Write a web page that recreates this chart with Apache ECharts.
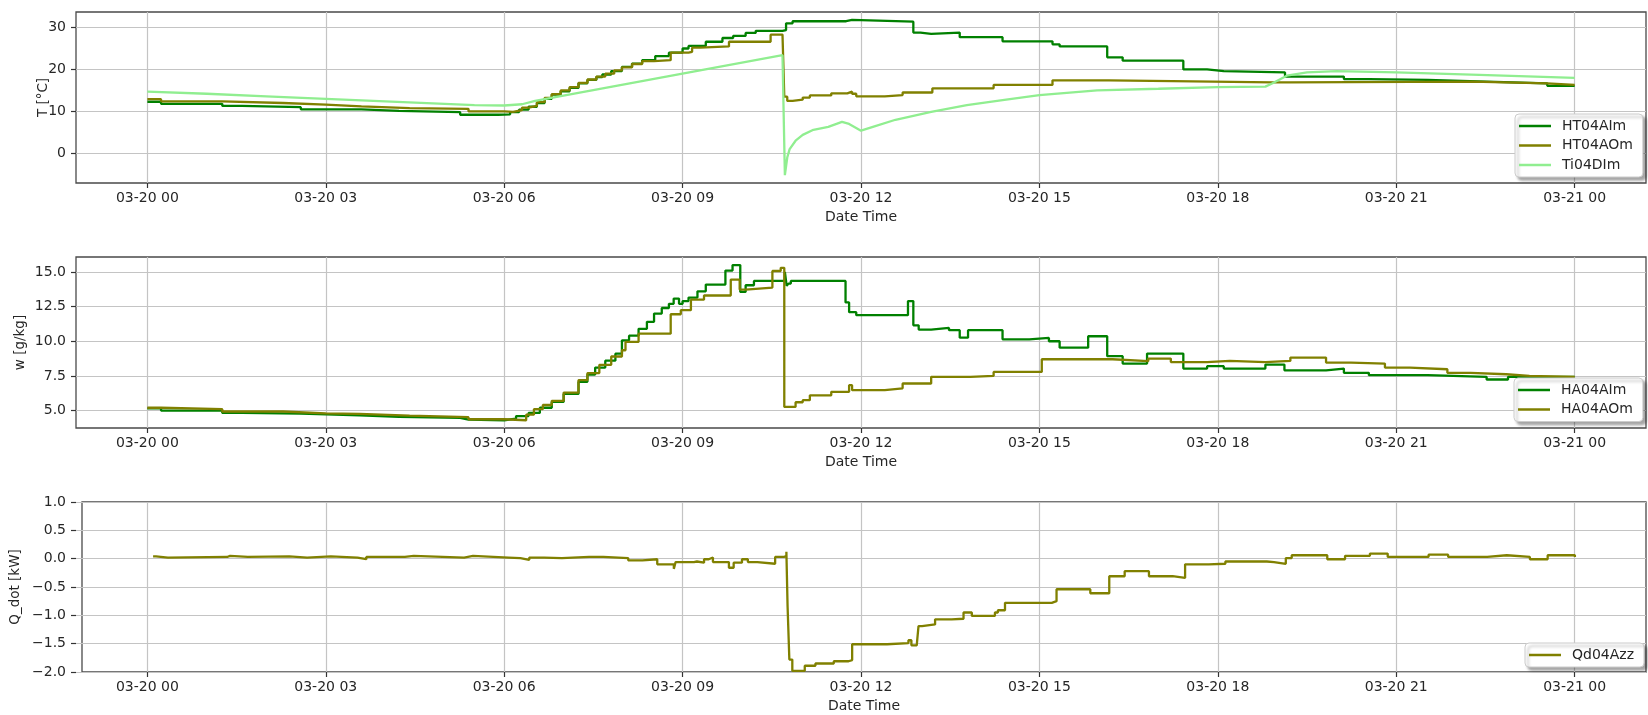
<!DOCTYPE html>
<html><head><meta charset="utf-8">
<script src="https://cdn.jsdelivr.net/npm/echarts@6/dist/echarts.min.js"></script>
<style>html,body{margin:0;padding:0;background:#fff}#c{width:1648px;height:715px}</style>
</head><body><div id="c"></div>
<script>
// ---------------- DATA (hour of 03-20, value) ----------------
const hourTicks = [0, 3, 6, 9, 12, 15, 18, 21, 24];
const hourLabels = ['03-20 00','03-20 03','03-20 06','03-20 09','03-20 12','03-20 15','03-20 18','03-20 21','03-21 00'];
const tTicks = [0, 10, 20, 30];
const wTicks = [5.0, 7.5, 10.0, 12.5, 15.0];
const qTicks = [-2.0, -1.5, -1.0, -0.5, 0.0, 0.5, 1.0];
const yTitles = ['T [°C]', 'w [g/kg]', 'Q_dot [kW]'];
const xTitle = 'Date Time';

const HT04AIm = [[0,12.3],[0.23,11.8],[1.26,11.3],[1.59,11.0],[2.58,10.5],[3.6,10.1],[4.23,9.8],[5.26,9.2],[5.9,9.3],[6.1,9.8],[6.25,10.4],[6.41,11.1],[6.55,12.0],[6.68,13.0],[6.8,14.0],[6.95,14.8],[7.1,15.6],[7.25,16.7],[7.4,17.5],[7.55,18.2],[7.65,18.8],[7.8,19.6],[7.98,20.6],[8.15,21.4],[8.32,22.2],[8.54,23.2],[8.77,24.0],[9.0,25.0],[9.1,25.6],[9.39,26.6],[9.67,27.5],[9.85,28.0],[10.06,28.7],[10.23,29.2],[10.68,29.4],[10.74,31.0],[10.85,31.5],[11.75,31.8],[11.85,31.4],[12.88,28.8],[13.0,28.5],[13.18,28.8],[13.66,27.7],[14.38,26.7],[15.22,26.0],[15.34,25.5],[16.14,22.9],[16.4,22.1],[17.42,20.0],[17.82,19.6],[18.1,19.3],[19.13,18.3],[20.12,17.7],[20.54,17.5],[21.53,17.1],[22.52,16.7],[23.54,16.1],[24,16.1]];
const HT04AOm = [[0,12.9],[0.23,12.4],[1.26,12.0],[2.28,11.6],[3.0,11.2],[3.6,10.8],[4.41,10.6],[5.4,10.0],[6.0,9.9],[6.15,10.3],[6.3,10.9],[6.41,11.3],[6.55,12.2],[6.68,13.2],[6.8,14.1],[6.95,15.0],[7.1,15.8],[7.25,16.8],[7.4,17.6],[7.55,18.3],[7.7,19.0],[7.85,19.8],[7.98,20.5],[8.15,21.3],[8.32,22.0],[8.52,22.2],[8.8,24.0],[9.1,24.2],[9.16,25.2],[9.3,25.5],[9.78,26.6],[10.48,28.3],[10.68,28.6],[10.71,13.5],[10.76,12.5],[10.85,12.8],[11.02,13.3],[11.14,13.8],[11.5,14.3],[11.77,14.7],[11.85,14.2],[11.92,13.6],[12.4,13.9],[12.7,14.5],[13.2,15.5],[14.23,16.3],[15.22,17.4],[16.17,17.2],[17.24,16.9],[18.92,16.9],[19.22,17.1],[22.28,16.7],[23.54,16.3],[24,16.3]];
const Ti04DIm = [[0,14.7],[1,14.2],[2,13.6],[3,13.0],[4,12.4],[5,11.8],[5.5,11.5],[6.0,11.4],[6.3,11.7],[6.52,12.5],[10.68,23.4],[10.72,-5.2],[10.76,-1.0],[10.8,1.0],[10.9,3.0],[11.02,4.4],[11.2,5.6],[11.45,6.3],[11.68,7.5],[11.8,7.0],[12.0,5.4],[12.2,6.3],[12.58,8.0],[13.18,9.9],[13.78,11.5],[14.38,12.7],[15.0,13.9],[15.97,15.0],[17,15.4],[18,15.8],[18.8,15.9],[18.92,16.7],[19.16,18.5],[19.5,19.3],[20.0,19.6],[21.0,19.3],[22.4,18.7],[24,18.0]];

const HA04AIm = [[0,5.15],[0.23,5.0],[1.26,4.83],[1.59,4.78],[2.58,4.66],[3.57,4.54],[4.23,4.47],[5.26,4.35],[5.4,4.3],[6.0,4.42],[6.2,4.6],[6.41,4.83],[6.6,5.2],[6.8,5.62],[7.0,6.2],[7.25,7.07],[7.4,7.6],[7.53,8.1],[7.7,8.6],[7.87,9.1],[7.98,10.07],[8.1,10.4],[8.26,10.9],[8.4,11.4],[8.52,12.0],[8.65,12.4],[8.77,12.7],[8.85,13.08],[8.94,12.7],[9.0,12.9],[9.1,13.15],[9.25,13.6],[9.39,14.09],[9.72,15.1],[9.84,15.5],[9.97,13.56],[10.06,14.04],[10.2,14.35],[10.68,14.35],[10.72,15.0],[10.75,14.0],[10.78,14.16],[10.82,14.35],[11.74,12.8],[11.8,12.1],[11.92,11.88],[12.79,12.9],[12.88,11.15],[12.97,10.84],[13.18,10.96],[13.48,10.8],[13.66,10.26],[13.8,10.8],[14.38,10.14],[14.83,10.24],[15.16,10.0],[15.34,9.54],[15.82,10.36],[16.14,8.92],[16.4,8.39],[16.81,9.11],[17.42,8.03],[17.82,8.2],[18.1,8.03],[18.8,8.32],[19.12,7.9],[19.82,8.03],[20.12,7.72],[20.54,7.55],[21.53,7.43],[22.52,7.24],[22.88,7.43],[24,7.38]];
const HA04AOm = [[0,5.2],[0.23,5.1],[1.26,4.93],[2.28,4.8],[3.0,4.76],[3.57,4.64],[4.41,4.52],[5.4,4.37],[6.0,4.3],[6.37,4.7],[6.5,5.1],[6.65,5.4],[6.8,5.7],[7.0,6.3],[7.25,7.2],[7.4,7.7],[7.6,8.3],[7.8,8.9],[7.98,9.35],[8.04,9.95],[8.26,10.55],[8.8,11.95],[8.97,12.24],[9.14,13.0],[9.36,13.3],[9.81,14.45],[9.96,13.73],[10.06,13.87],[10.51,15.07],[10.65,15.3],[10.71,5.26],[10.77,5.26],[10.9,5.6],[11.02,5.75],[11.14,6.1],[11.5,6.35],[11.8,6.83],[11.85,6.47],[12.4,6.6],[12.7,6.95],[13.18,7.43],[13.84,7.5],[14.23,7.79],[15.04,8.7],[16.23,8.56],[16.83,8.75],[17.21,8.5],[17.82,8.58],[18.2,8.5],[18.8,8.58],[19.22,8.82],[19.82,8.46],[20.24,8.39],[20.81,8.1],[21.23,7.98],[21.86,7.72],[22.25,7.62],[22.85,7.5],[23.24,7.43],[24,7.43]];

const Qd04Azz = [[0,0.04],[0.05,0.02],[0.25,0.03],[1.25,0.05],[1.3,0.03],[1.6,0.04],[2.3,0.02],[2.6,0.04],[3.0,0.02],[3.45,-0.01],[3.6,0.03],[4.25,0.05],[4.4,0.02],[5.25,0.05],[5.4,0.02],[6.0,0.01],[6.2,-0.02],[6.35,0.02],[6.6,0.01],[6.9,0.03],[7.36,0.03],[7.6,0.01],[8.02,-0.03],[8.26,-0.01],[8.51,-0.1],[8.79,-0.18],[8.82,-0.06],[9.13,-0.05],[9.18,-0.07],[9.3,-0.01],[9.38,0.02],[9.45,-0.06],[9.72,-0.16],[9.8,-0.07],[9.94,-0.01],[10.04,-0.06],[10.2,-0.09],[10.5,0.03],[10.65,0.05],[10.69,0.12],[10.71,-0.84],[10.74,-1.78],[10.79,-1.98],[11.0,-1.89],[11.18,-1.85],[11.49,-1.81],[11.74,-1.79],[11.8,-1.51],[12.39,-1.53],[12.42,-1.49],[12.75,-1.44],[12.8,-1.53],[12.89,-1.54],[12.92,-1.19],[12.98,-1.16],[13.2,-1.07],[13.48,-1.06],[13.68,-0.95],[13.82,-1.01],[14.21,-0.95],[14.26,-0.91],[14.38,-0.78],[15.17,-0.75],[15.25,-0.54],[15.82,-0.61],[16.14,-0.31],[16.4,-0.22],[16.81,-0.31],[17.21,-0.34],[17.42,-0.1],[17.82,-0.09],[18.1,-0.05],[18.8,-0.06],[18.92,-0.09],[19.12,0.01],[19.22,0.06],[19.82,-0.01],[20.12,0.05],[20.54,0.09],[20.84,0.03],[21.53,0.07],[21.86,0.03],[22.52,0.06],[22.85,0.03],[23.24,-0.01],[23.54,0.06],[24,0.03]];

// ---------------- LAYOUT ----------------
const FONT = 'DejaVu Sans';
const TXT = '#262626';
const GRIDC = '#c4c4c4';
const frameL = 76, frameR = 1646;
const xMin = -1.2, xMax = 25.2;
const xpx = h => frameL + (h - xMin) / (xMax - xMin) * (frameR - frameL);

const panels = [
  { top: 12,  h: 171, min: -7.08, max: 33.7, ticks: tTicks, title: yTitles[0], gap: 26, fmt: v => String(Math.round(v)),
    series: [['HT04AIm', HT04AIm, '#008000', true], ['HT04AOm', HT04AOm, '#808000', true], ['Ti04DIm', Ti04DIm, '#90ee90', false]],
    legend: { left: 1515, top: 114 } },
  { top: 257, h: 171, min: 3.74, max: 16.08, ticks: wTicks, title: yTitles[1], gap: 49, fmt: v => v.toFixed(1),
    series: [['HA04AIm', HA04AIm, '#008000', true], ['HA04AOm', HA04AOm, '#808000', true]],
    legend: { left: 1514, top: 378 } },
  { top: 502, h: 170, min: -2, max: 1, ticks: qTicks, title: yTitles[2], gap: 60, fmt: v => (v < -1e-9 ? '\u2212' : '') + Math.abs(v).toFixed(1),
    series: [['Qd04Azz', Qd04Azz, '#808000', true]],
    legend: { left: 1525, top: 643 } }
];

const grid = [], xAxis = [], yAxis = [], series = [], legend = [];
const hid = { show: false };
panels.forEach((p, i) => {
  const ypx = v => p.top + (p.max - v) / (p.max - p.min) * p.h;
  const tMin = p.ticks[0], tMax = p.ticks[p.ticks.length - 1], tInt = p.ticks[1] - p.ticks[0];
  const g0 = i * 3;
  grid.push({ left: frameL, top: p.top, width: frameR - frameL, height: p.h, show: true,
              borderColor: '#4a4a4a', borderWidth: 1.3, backgroundColor: 'transparent', containLabel: false });
  const xl = xpx(hourTicks[0]), xr = xpx(hourTicks[hourTicks.length - 1]);
  grid.push({ left: xl, top: p.top, width: xr - xl, height: p.h, show: false });
  const yt = ypx(tMax), yb = ypx(tMin);
  grid.push({ left: frameL, top: yt, width: frameR - frameL, height: yb - yt, show: false });

  xAxis.push({ gridIndex: g0, type: 'value', min: xMin, max: xMax,
    axisLine: hid, axisTick: hid, axisLabel: hid, splitLine: hid,
    name: xTitle, nameLocation: 'middle', nameGap: 27,
    nameTextStyle: { fontFamily: FONT, fontSize: 14, color: TXT } });
  xAxis.push({ gridIndex: g0 + 1, type: 'value', min: hourTicks[0], max: hourTicks[hourTicks.length - 1],
    interval: hourTicks[1] - hourTicks[0],
    axisLine: hid,
    axisTick: { show: true, length: 5, lineStyle: { color: '#333', width: 1.2 } },
    axisLabel: { show: true, margin: 8, fontFamily: FONT, fontSize: 14, color: TXT,
      formatter: v => hourLabels[hourTicks.indexOf(Math.round(v))] || '' },
    splitLine: { show: true, lineStyle: { color: GRIDC, width: 1.2 } } });
  xAxis.push({ gridIndex: g0 + 2, type: 'value', min: 0, max: 1, show: false });

  yAxis.push({ gridIndex: g0, type: 'value', min: p.min, max: p.max,
    axisLine: hid, axisTick: hid, axisLabel: hid, splitLine: hid,
    name: p.title, nameLocation: 'middle', nameRotate: 90, nameGap: p.gap,
    nameTextStyle: { fontFamily: FONT, fontSize: 13.5, color: TXT } });
  yAxis.push({ gridIndex: g0 + 1, type: 'value', min: 0, max: 1, show: false });
  yAxis.push({ gridIndex: g0 + 2, type: 'value', min: tMin, max: tMax, interval: tInt,
    axisLine: hid,
    axisTick: { show: true, length: 5, lineStyle: { color: '#333', width: 1.2 } },
    axisLabel: { show: true, margin: 10, fontFamily: FONT, fontSize: 14, color: TXT, formatter: p.fmt },
    splitLine: { show: true, lineStyle: { color: GRIDC, width: 1.2 } } });

  p.series.forEach(([name, data, color, stepped]) => {
    series.push({ name, type: 'line', xAxisIndex: g0, yAxisIndex: g0, data,
      step: stepped ? 'end' : false, symbol: 'none', showSymbol: false,
      lineStyle: { color, width: 2.3 }, itemStyle: { color }, z: 3 });
  });

  legend.push({ data: p.series.map(s => ({ name: s[0], icon: 'rect', itemStyle: { color: s[2] } })),
    orient: 'vertical', left: p.legend.left, top: p.legend.top,
    padding: [5, 10, 5, 4], itemGap: 5.5, itemWidth: 32, itemHeight: 2.5, selectedMode: false,
    textStyle: { fontFamily: FONT, fontSize: 14, color: TXT, padding: [0, 0, 0, 6], lineHeight: 14 },
    backgroundColor: '#ffffff', borderColor: '#cccccc', borderWidth: 1, borderRadius: 4,
    shadowColor: 'rgba(0,0,0,0.35)', shadowBlur: 3, shadowOffsetX: 3, shadowOffsetY: 3 });
});

const chart = echarts.init(document.getElementById('c'), null, { renderer: 'canvas', width: 1648, height: 715 });
chart.setOption({ animation: false, backgroundColor: '#ffffff', textStyle: { fontFamily: FONT },
  grid, xAxis, yAxis, series, legend });
</script></body></html>
